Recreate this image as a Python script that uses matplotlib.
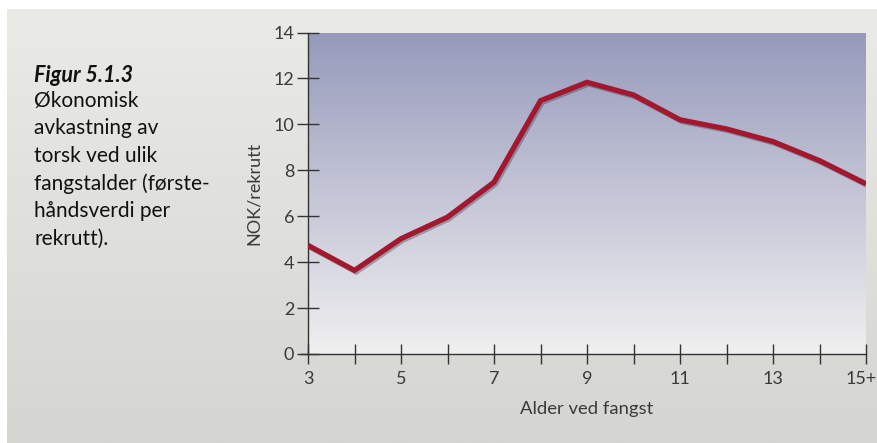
import numpy as np
import matplotlib
matplotlib.use("Agg")
import matplotlib.pyplot as plt
import matplotlib.patheffects as pe
import matplotlib.transforms as mtransforms
from matplotlib.colors import LinearSegmentedColormap

plt.rcParams['font.family'] = ['Lato', 'DejaVu Sans']

ages = [3, 4, 5, 6, 7, 8, 9, 10, 11, 12, 13, 14, 15]
values = [4.73, 3.64, 5.02, 5.96, 7.48, 11.03, 11.83, 11.28, 10.20, 9.80, 9.25, 8.42, 7.41]
xtick_pos = [3, 5, 7, 9, 11, 13, 15]
xtick_labels = ['3', '5', '7', '9', '11', '13', '15+']
ytick_vals = [0, 2, 4, 6, 8, 10, 12, 14]
caption_title = "Figur 5.1.3"
caption_body = "Økonomisk\navkastning av\ntorsk ved ulik\nfangstalder (første-\nhåndsverdi per\nrekrutt)."

W, H = 877, 443
fig = plt.figure(figsize=(W / 100, H / 100), dpi=100)
fig.patch.set_facecolor('white')

# background panel gradient
bg = fig.add_axes([7 / W, 0, 1 - 7 / W, 1 - 9 / H])
bg.set_axis_off()
bgcmap = LinearSegmentedColormap.from_list('bg', ['#eaeae6', '#d5d5d1'])
bg.imshow(np.linspace(0, 1, 256).reshape(-1, 1), aspect='auto', cmap=bgcmap,
          extent=[0, 1, 0, 1], origin='upper')
bg.set_xlim(0, 1)
bg.set_ylim(0, 1)

ax = fig.add_axes([308 / W, 1 - 354 / H, (866 - 308) / W, (354 - 32.5) / H])
ax.set_facecolor('none')
pcmap = LinearSegmentedColormap.from_list('plot', ['#969abb', '#c4c5d6', '#f0f0f0'])
ax.imshow(np.linspace(0, 1, 256).reshape(-1, 1), aspect='auto', cmap=pcmap,
          extent=[3, 15, 0, 14], origin='upper', zorder=0)

ax.plot(ages, values, color='#a3182f', lw=3.8, solid_joinstyle='miter',
        solid_capstyle='butt', zorder=3,
        path_effects=[pe.SimpleLineShadow(offset=(1.2, -1.2), shadow_color='#303040', alpha=0.35),
                      pe.Normal()])

ax.set_xlim(3, 15)
ax.set_ylim(0, 14)
for s in ['top', 'right']:
    ax.spines[s].set_visible(False)
ax.spines['left'].set_color('#333333')
ax.spines['bottom'].set_color('#333333')
ax.spines['left'].set_linewidth(1.0)
ax.spines['bottom'].set_linewidth(1.0)
ax.spines['bottom'].set_bounds(2.85, 15)

ax.set_xticks(ages)
ax.set_xticklabels(['' if a not in xtick_pos else xtick_labels[xtick_pos.index(a)] for a in ages])
ax.set_yticks(ytick_vals)
ax.set_yticklabels([str(v) for v in ytick_vals])
ax.tick_params(axis='x', direction='inout', length=14, width=1.0, color='#333333',
               labelsize=13, labelcolor='#3a3a3a', pad=5)
ax.tick_params(axis='y', direction='inout', length=16, width=1.0, color='#333333',
               labelsize=13, labelcolor='#3a3a3a', pad=2)

# nudge last x label so it stays inside the figure
last = ax.get_xticklabels()[-1]
last.set_transform(last.get_transform() + mtransforms.ScaledTranslation(-5 / 100, 0, fig.dpi_scale_trans))

ax.set_xlabel('Alder ved fangst', fontsize=13.3, color='#3a3a3a', labelpad=10)
ax.set_ylabel('NOK/rekrutt', fontsize=13, color='#3a3a3a', labelpad=8)

fig.text(34 / W, 1 - 75 / H, caption_title, fontsize=15.5, fontweight='bold', fontstyle='italic',
         color='#111111', va='center', ha='left')
fig.text(34 / W, 1 - 91 / H, caption_body, fontsize=15, color='#111111', va='top', ha='left',
         linespacing=1.46)

fig.savefig('out.png', dpi=100, facecolor=fig.get_facecolor())
